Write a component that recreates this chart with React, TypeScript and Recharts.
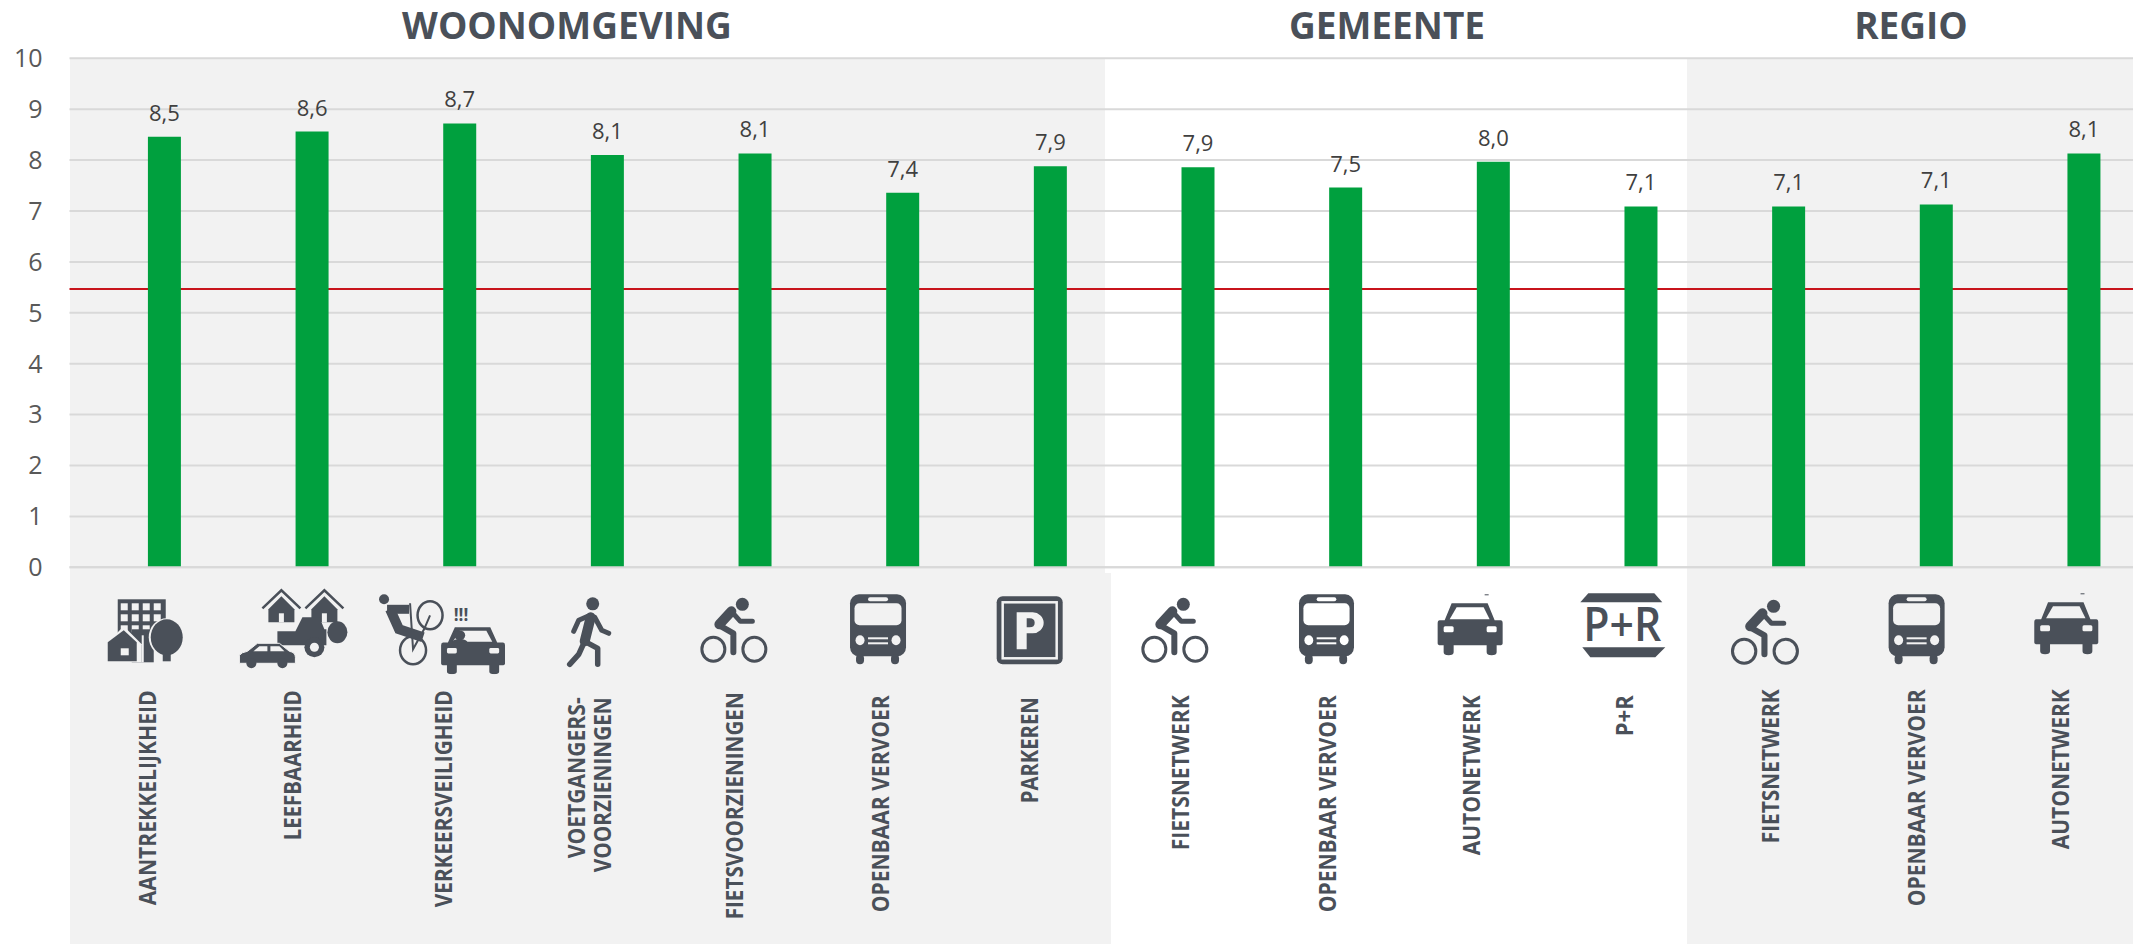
import { Bar, CartesianGrid, ComposedChart, LabelList, ReferenceLine, XAxis, YAxis } from "recharts";

// values
const categories = [
  "AANTREKKELIJKHEID", "LEEFBAARHEID", "VERKEERSVEILIGHEID", "VOETGANGERS-\nVOORZIENINGEN",
  "FIETSVOORZIENINGEN", "OPENBAAR VERVOER", "PARKEREN", "FIETSNETWERK", "OPENBAAR VERVOER",
  "AUTONETWERK", "P+R", "FIETSNETWERK", "OPENBAAR VERVOER", "AUTONETWERK",
];
const scores = [8.46, 8.56, 8.72, 8.1, 8.13, 7.36, 7.88, 7.86, 7.46, 7.97, 7.09, 7.09, 7.13, 8.13];
const yTicks = [0, 1, 2, 3, 4, 5, 6, 7, 8, 9, 10];
const threshold = 5.47;
const icons = ["city", "living", "crash", "walker", "bike", "bus", "parking", "bike", "bus", "car", "pr", "bike", "bus", "car"];

// tick layout, relative to the foot of each bar
const labelDx = [-18, -20, -17, -19, -21.5, -23, -21.7, -18, -19, -23, -17, -19, -21, -24];
const labelDy = [123, 123, 123, 130, 125, 128, 130, 128, 128, 128, 128, 122, 122, 122];
const labelLengths = [[215], [150], [217], [161, 175], [227], [217], [106], [155], [217], [160], [41], [154], [217], [160]];
const iconBoxes = [
  [-57, 32, 76, 63], [-73, 22, 108, 80], [-81, 26, 126, 81], [-41, 30, 45, 70], [-55, 30, 68, 66],
  [-53, 27, 56, 70], [-54, 29, 66, 68], [-57, 30, 68, 66], [-47, 27, 55, 70], [-56, 35, 65, 53],
  [-61, 26, 85, 64], [-58, 32, 69, 66], [-48, 27, 56, 70], [-50, 34, 64, 53],
];

const W = 2133;
const H = 944;
const DARK = "#4a5059";
const GREY = "#f2f2f2";
const FONT = "'Open Sans', sans-serif";

const rows = scores.map((score, pos) => ({ pos, score }));
const isGrey = (i: number) => i < 7 || i > 10;

function CarShape({ bg }: { bg: string }) {
  return (
    <g>
      <path d="M14 1H50L57 18H63Q65 18 65 21V41Q65 43 62 43H59V50Q59 53 54 53Q49 53 49 50V43H16V50Q16 53 11 53Q6 53 6 50V43H3Q0 43 0 41V21Q0 18 2 18H7Z" fill={DARK} />
      <path d="M19 5H46L52 17H12Z" fill={bg} />
      <rect x={6} y={24} width={10} height={6} rx={1.5} fill={bg} />
      <rect x={49} y={24} width={10} height={6} rx={1.5} fill={bg} />
    </g>
  );
}

function BikeShape({ bg }: { bg: string }) {
  return (
    <g fill="none" stroke={DARK} strokeLinecap="round" strokeLinejoin="round">
      <ellipse cx={13} cy={52} rx={11.5} ry={12} strokeWidth={3} fill={bg} />
      <ellipse cx={54} cy={52} rx={11.5} ry={12} strokeWidth={3} fill={bg} />
      <ellipse cx={42} cy={7} rx={6.5} ry={6.5} fill={DARK} stroke="none" />
      <path d="M31 14L19 27" strokeWidth={10} />
      <path d="M31 14L40 24H52" strokeWidth={5} />
      <path d="M19 28L33 36V55" strokeWidth={6} />
    </g>
  );
}

function Icon({ kind, bg }: { kind: string; bg: string }) {
  if (kind === "bike") return <BikeShape bg={bg} />;
  if (kind === "car") {
    return (
      <g>
        <CarShape bg={bg} />
        <rect x={47} y={-8} width={4} height={1} fill={DARK} />
      </g>
    );
  }
  if (kind === "bus") {
    return (
      <g>
        <rect x={0} y={0} width={56} height={62} rx={9} fill={DARK} />
        <rect x={6} y={60} width={8} height={10} rx={4} fill={DARK} />
        <rect x={41} y={60} width={8} height={10} rx={4} fill={DARK} />
        <rect x={4.5} y={9} width={47} height={22} rx={5} fill={bg} />
        <rect x={18} y={3} width={20} height={4} rx={2} fill={bg} />
        <ellipse cx={10} cy={46} rx={4.5} ry={5} fill={bg} />
        <ellipse cx={46} cy={46} rx={4.5} ry={5} fill={bg} />
        <rect x={18} y={43} width={20} height={2} fill={bg} />
        <rect x={18} y={48} width={20} height={2} fill={bg} />
      </g>
    );
  }
  if (kind === "parking") {
    return (
      <g>
        <rect x={0} y={0} width={66} height={68} rx={6} fill={DARK} />
        <rect x={6} y={6} width={54} height={56} fill="none" stroke={bg} strokeWidth={2.5} />
        <path d="M20 16H36A11 10.500 0 0 1 36 37H30V53H20Z" fill={bg} />
        <path d="M30 22H33Q38 22 38 26.500Q38 31 33 31H30Z" fill={DARK} />
      </g>
    );
  }
  if (kind === "pr") {
    return (
      <g>
        <path d="M8 0H74L82 9H0Z" fill={DARK} />
        <path d="M2 54H85L75 64H10Z" fill={DARK} />
        <text x={42} y={48} textAnchor="middle" fontFamily={FONT} fontWeight={600} fontSize={47} fill={DARK} textLength={78} lengthAdjust="spacingAndGlyphs">P+R</text>
      </g>
    );
  }
  if (kind === "walker") {
    return (
      <g fill="none" stroke={DARK} strokeLinecap="round" strokeLinejoin="round">
        <ellipse cx={26} cy={6.500} rx={6.500} ry={6.500} fill={DARK} stroke="none" />
        <path d="M24 20L18 44" strokeWidth={10} />
        <path d="M21 19L12 23L7 34" strokeWidth={5} />
        <path d="M28 20L35 33L42 36" strokeWidth={5} />
        <path d="M17 46L12 57L3 67" strokeWidth={5.500} />
        <path d="M18 44L31 51V67" strokeWidth={5.500} />
      </g>
    );
  }
  if (kind === "city") {
    return (
      <g>
        <rect x={10} y={0} width={48} height={40} fill={DARK} />
        {[0, 1, 2].flatMap((r) =>
          [0, 1, 2, 3].map((c) => <rect key={`${r}-${c}`} x={13 + c * 11} y={4 + r * 11} width={7} height={7} fill={bg} />),
        )}
        <rect x={24} y={30} width={22} height={33} fill={DARK} />
        <path d="M16 27L34 45V63H-2V45Z" fill={bg} />
        <path d="M16 31L29 43V62H0V43Z" fill={DARK} />
        <rect x={13} y={49} width={8} height={7} fill={bg} />
        <rect x={34} y={36} width={2} height={27} fill={bg} />
        <ellipse cx={59} cy={38} rx={18} ry={19} fill={bg} />
        <ellipse cx={59} cy={38} rx={16} ry={18} fill={DARK} />
        <rect x={55} y={52} width={8} height={10} fill={DARK} />
      </g>
    );
  }
  if (kind === "living") {
    const house = (cx: number, key: string) => (
      <g key={key}>
        <path d={`M${cx - 19} 19L${cx} 1L${cx + 19} 19`} fill="none" stroke={DARK} strokeWidth={2.5} />
        <path d={`M${cx} 7L${cx + 13} 20V33H${cx - 13}V20Z`} fill={DARK} />
        <rect x={cx - 2.5} y={24} width={5} height={9} fill={bg} />
      </g>
    );
    return (
      <g>
        {house(42, "a")}
        {house(85, "b")}
        <path d="M38 42H56L63 28H80L85 40H87V56H38Z" fill={DARK} />
        <circle cx={75} cy={58} r={10} fill={DARK} />
        <circle cx={75} cy={58} r={4.5} fill={bg} />
        <ellipse cx={98} cy={43} rx={10} ry={11} fill={DARK} />
        <path d="M0 66Q2 63 8 62L18 54H40L50 62Q56 63 56 68V74H0Z" fill={DARK} stroke={bg} strokeWidth={1} />
        <path d="M20 57H28V62H14ZM31 57H40L45 62H31Z" fill={bg} />
        <circle cx={12} cy={74} r={5} fill={DARK} />
        <circle cx={43} cy={74} r={5} fill={DARK} />
      </g>
    );
  }
  // fietser tegen auto
  return (
    <g>
      <g fill="none" stroke={DARK}>
        <ellipse cx={51} cy={22} rx={12.5} ry={14} strokeWidth={2.5} />
        <ellipse cx={34} cy={57} rx={13} ry={14} strokeWidth={2.5} />
        <path d="M31 10L34 56L45 36L51 22" strokeWidth={2} />
        <path d="M8 16H30" strokeWidth={9} />
        <path d="M11 16L20 36L44 44" strokeWidth={10} />
      </g>
      <circle cx={5} cy={6} r={5} fill={DARK} />
      <text x={82} y={28} textAnchor="middle" fontFamily={FONT} fontWeight={700} fontSize={17} fill={DARK}>!!!</text>
      <svg x={62} y={33} width={64} height={48} viewBox="0 0 65 53" preserveAspectRatio="none">
        <CarShape bg={bg} />
        <circle cx={19} cy={10} r={5.5} fill={DARK} />
        <path d="M11 18Q12 14 19 14Q26 14 27 18Z" fill={DARK} />
      </svg>
    </g>
  );
}

function iconViewBox(kind: string, w: number, h: number) {
  const sizes: Record<string, string> = {
    bike: "0 0 68 66", bus: "0 0 56 70", car: "0 0 65 53", parking: "0 0 66 68", pr: "0 0 85 64", walker: "0 0 45 70",
  };
  return sizes[kind] ?? `0 0 ${w} ${h}`;
}

function CategoryTick({ x, y, payload }: any) {
  const i = payload.value as number;
  const [dx, dy, w, h] = iconBoxes[i];
  const lines = categories[i].split("\n");
  const bg = isGrey(i) ? GREY : "#ffffff";
  return (
    <g>
      <svg x={x + dx} y={y + dy} width={w} height={h} overflow="visible" viewBox={iconViewBox(icons[i], w, h)} preserveAspectRatio="none">
        <Icon kind={icons[i]} bg={bg} />
      </svg>
      {lines.map((line, n) => (
        <text
          key={line}
          transform={`translate(${x + labelDx[i] + (n - (lines.length - 1) / 2) * 26},${y + labelDy[i]}) rotate(-90)`}
          textAnchor="end"
          dominantBaseline="central"
          fontFamily={FONT}
          fontWeight={700}
          fontSize={23}
          fill={DARK}
          textLength={labelLengths[i][n]}
          lengthAdjust="spacingAndGlyphs"
        >
          {line}
        </text>
      ))}
    </g>
  );
}

const heading = (text: string, center: number) => (
  <div
    style={{
      position: "absolute", left: center - 300, width: 600, top: 1, textAlign: "center",
      fontFamily: FONT, fontWeight: 700, fontSize: 37, lineHeight: "48px", color: DARK,
    }}
  >
    {text}
  </div>
);

export default function App() {
  return (
    <div style={{ position: "absolute", left: 0, top: 0, width: W, height: H, background: "#fff", overflow: "hidden" }}>
      <div style={{ position: "absolute", left: 69.5, top: 58, width: 1035.5, height: 515, background: GREY }} />
      <div style={{ position: "absolute", left: 69.5, top: 573, width: 1041.5, height: 371, background: GREY }} />
      <div style={{ position: "absolute", left: 1687, top: 58, width: 446, height: 886, background: GREY }} />
      {heading("WOONOMGEVING", 567)}
      {heading("GEMEENTE", 1387)}
      {heading("REGIO", 1911)}
      <div style={{ position: "absolute", left: 0, top: 0 }}>
        <ComposedChart width={W} height={H} data={rows} margin={{ top: 58.3, right: 0, bottom: 0, left: 0 }}>
          <CartesianGrid vertical={false} stroke="#d9d9d9" strokeWidth={2} />
          <XAxis
            type="number"
            dataKey="pos"
            domain={[-0.645, 13.33]}
            ticks={categories.map((_, i) => i)}
            interval={0}
            height={376.7}
            tickLine={false}
            tickSize={0}
            tickMargin={0}
            axisLine={{ stroke: "#d9d9d9", strokeWidth: 2 }}
            tick={<CategoryTick />}
          />
          <YAxis
            domain={[0, 10]}
            ticks={yTicks}
            interval={0}
            width={69.5}
            tickLine={false}
            axisLine={false}
            tickMargin={27}
            tickSize={0}
            tick={{ fontFamily: FONT, fontSize: 25, fill: "#595959" }}
          />
          <ReferenceLine y={threshold} stroke="#c8141c" strokeWidth={2} zIndex={-50} />
          <Bar dataKey="score" fill="#00a03e" barSize={33} isAnimationActive={false}>
            <LabelList
              dataKey="score"
              position="top"
              offset={16}
              formatter={(v: any) => Number(v).toFixed(1).replace(".", ",")}
              style={{ fontFamily: FONT, fontSize: 22, fill: "#404040" }}
            />
          </Bar>
        </ComposedChart>
      </div>
    </div>
  );
}
